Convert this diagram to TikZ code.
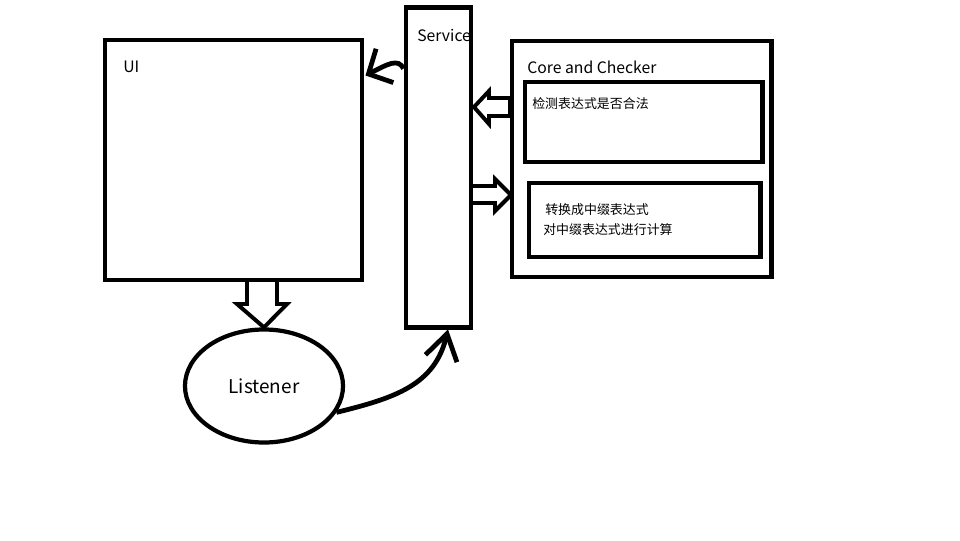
\documentclass[tikz,border=0pt]{standalone}
\usepackage{fontspec}
\usepackage{tikz}
\usetikzlibrary{arrows.meta,calc,shapes.geometric}
\setmainfont{Noto Sans CJK SC}

\begin{document}
\begin{tikzpicture}[x=0.025cm,y=-0.025cm,
  box/.style={draw,line width=3.5pt,inner sep=0pt},
  lbl/.style={anchor=west,inner sep=0pt,font=\fontsize{11.2}{13}\selectfont},
  zh/.style={anchor=west,inner sep=0pt,font=\fontsize{9.2}{11}\selectfont},
  arrow/.style={line width=3.4pt},
  fat/.style={line width=2.8pt,line join=miter}]
\useasboundingbox (0,0) rectangle (960,540);
\node[box,minimum width=6.425cm,minimum height=6cm] (ui) at (233.5,160) {};
\node[box,minimum width=1.625cm,minimum height=7.975cm] (srv) at (438.5,167.5) {};
\node[box,minimum width=6.475cm,minimum height=5.9cm] (core) at (641.5,159) {};
\node[box,minimum width=5.925cm,minimum height=2cm] (chk) at (643.5,122) {};
\node[box,minimum width=5.775cm,minimum height=1.85cm] (conv) at (644.5,220) {};
\node[draw,ellipse,line width=3pt,inner sep=0pt,minimum width=3.95cm,minimum height=2.825cm,font=\fontsize{13.5}{16}\selectfont] (lsn) at (264,386) {Listener};
% labels
\node[lbl] (uitxt) at (123,67) {UI};
\node[lbl] (srvtxt) at (417,35) {Service};
\node[lbl] (coretxt) at (527,67) {Core and Checker};
\node[zh] (chktxt) at (532,104) {检测表达式是否合法};
\node[zh] (convtxt) at (545,210) {转换成中缀表达式};
\node[zh] (evaltxt) at (543,230) {对中缀表达式进行计算};
% block arrows
\draw[fat] (247,280) -- (247,304) -- (237,304) -- (lsn.north) -- (287,304) -- (277,304) -- (277,280);
\draw[fat] (510,98) -- (489,98) -- (489,91) -- (474,107) -- (489,124) -- (489,116) -- (510,116) -- cycle;
\draw[fat] (472,186) -- (495,186) -- (495,179) -- (511,195) -- (495,211) -- (495,203) -- (472,203);
% curved arrows
\draw[arrow,-{Straight Barb[length=13pt,width=27pt]}] ($(srv.north west)+(0,63)$) .. controls (398,58) and (388,64) .. ($(ui.north east)+(1,38)$);
\draw[arrow,-{Straight Barb[length=18pt,width=23pt]}] (lsn.-20) .. controls (395,398) and (435,385) .. ($(srv.south)+(9.5,0)$);
\end{tikzpicture}
\end{document}
